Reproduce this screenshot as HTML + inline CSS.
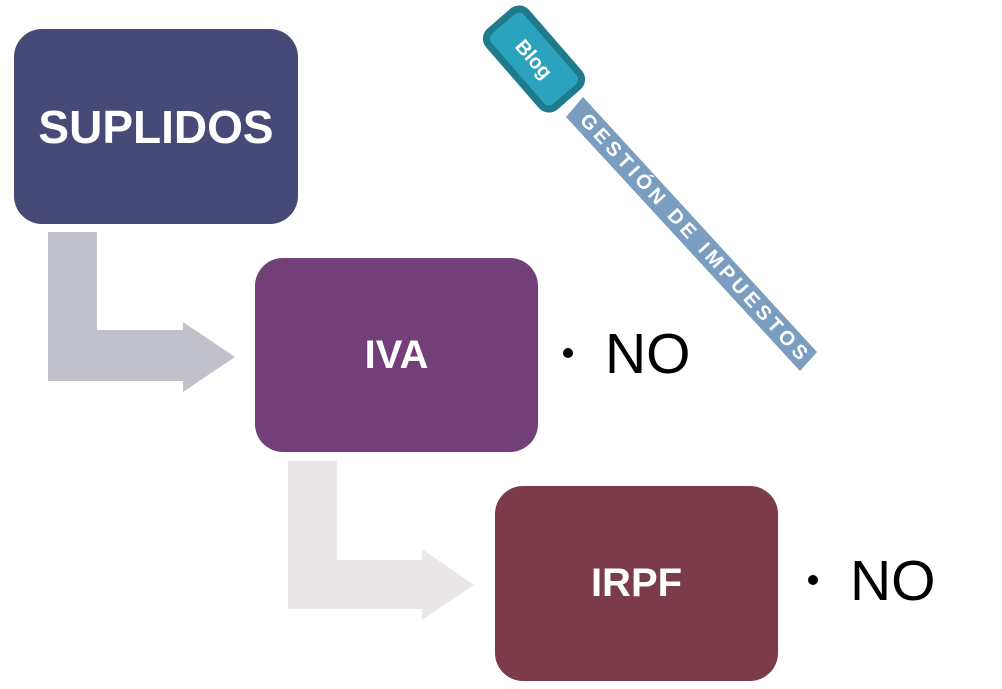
<!DOCTYPE html>
<html><head><meta charset="utf-8"><style>
body{margin:0;width:1002px;height:689px;background:#fff;overflow:hidden;position:relative;font-family:"Liberation Sans",sans-serif}
.box{position:absolute;border-radius:28px;color:#fff;font-weight:bold;display:flex;align-items:center;justify-content:center}
.no{position:absolute;font-size:57px;color:#000;line-height:1}
.dot{position:absolute;width:10px;height:10px;border-radius:50%;background:#000}
</style></head><body>
<svg width="1002" height="689" style="position:absolute;left:0;top:0">
<polygon points="48,232 97,232 97,330 183,330 183,322 235,357 183,392 183,381 48,381" fill="#c0c1cb"/>
<polygon points="288,461 337,461 337,560 422,560 422,549 474,585 422,620 422,609 288,609" fill="#ebe7e8"/>
<polygon points="566,117 583,97 817,352 800,371" fill="#7b9dc0"/>
<text x="0" y="0" transform="translate(579,121) rotate(47.5)" font-family="Liberation Sans,sans-serif" font-weight="bold" font-size="20" fill="#fff" textLength="326" lengthAdjust="spacing">GESTIÓN DE IMPUESTOS</text>
<g transform="translate(534,59) rotate(49)">
<rect x="-50" y="-25" width="100" height="50" rx="10" fill="#2ba3bf" stroke="#1f7a8c" stroke-width="7"/>
<text x="0" y="7" text-anchor="middle" font-family="Liberation Sans,sans-serif" font-weight="bold" font-size="20" fill="#fff">Blog</text>
</g>
</svg>
<div class="box" style="left:14px;top:29px;width:284px;height:195px;background:#474a76;font-size:46px">SUPLIDOS</div>
<div class="box" style="left:255px;top:258px;width:283px;height:194px;background:#723f78;font-size:40px">IVA</div>
<div class="box" style="left:495px;top:486px;width:283px;height:195px;background:#7c3b4a;font-size:40px">IRPF</div>
<div class="dot" style="left:563px;top:348px"></div>
<div class="no" style="left:605px;top:326px">NO</div>
<div class="dot" style="left:808px;top:575px"></div>
<div class="no" style="left:850px;top:553px">NO</div>
</body></html>
